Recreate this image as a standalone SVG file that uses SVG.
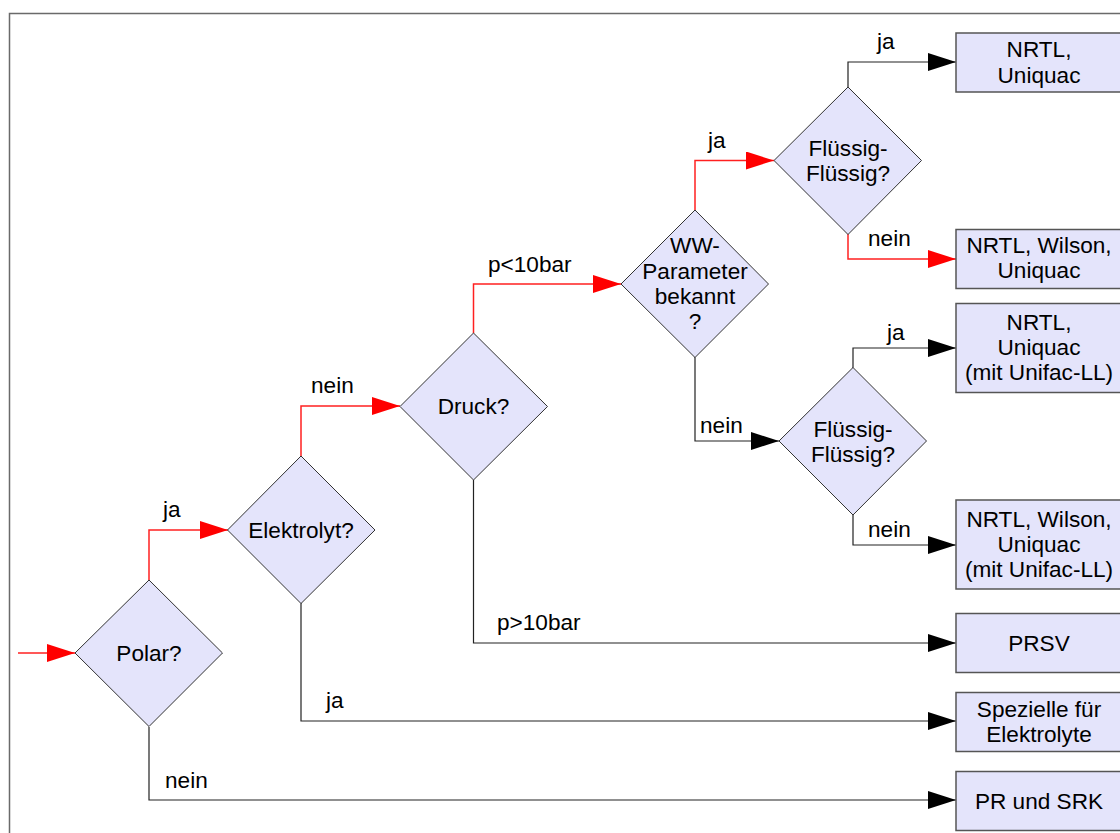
<svg xmlns="http://www.w3.org/2000/svg" width="1120" height="833" viewBox="0 0 1120 833">
<style>
text{font-family:"Liberation Sans",Arial,sans-serif;font-size:22.6px;fill:#000}
.t{text-anchor:middle}
.dia{fill:#e4e4fb;stroke:#333;stroke-width:1}
.box{fill:#e4e4fb;stroke:#555;stroke-width:1.5}
.r{fill:none;stroke:#ff2020;stroke-width:1.5}
.k{fill:none;stroke:#222;stroke-width:1.2}
</style>
<defs>
<marker id="ar" markerUnits="userSpaceOnUse" markerWidth="30" markerHeight="20" refX="28" refY="9" orient="auto"><path d="M0,0 L28,9 L0,18 z" fill="#ff0000"/></marker>
<marker id="ak" markerUnits="userSpaceOnUse" markerWidth="30" markerHeight="20" refX="28" refY="9" orient="auto"><path d="M0,0 L28,9 L0,18 z" fill="#000"/></marker>
</defs>
<rect x="0" y="0" width="1120" height="833" fill="#fff"/>
<path d="M9.5,833 L9.5,13.5 L1120,13.5" fill="none" stroke="#6a6a6a" stroke-width="1.5"/>

<g id="connectors">
<path class="r" d="M18,653 L75,653" marker-end="url(#ar)"/>
<path class="r" d="M149,580 L149,530 L228,530" marker-end="url(#ar)"/>
<path class="k" d="M149,727 L149,800 L956,800" marker-end="url(#ak)"/>
<path class="k" d="M301,603 L301,721 L956,721" marker-end="url(#ak)"/>
<path class="r" d="M301,456 L301,406 L400,406" marker-end="url(#ar)"/>
<path class="r" d="M473.5,333 L473.5,284 L621,284" marker-end="url(#ar)"/>
<path class="k" d="M473.5,480 L473.5,643 L956,643" marker-end="url(#ak)"/>
<path class="r" d="M695,210 L695,160.5 L774,160.5" marker-end="url(#ar)"/>
<path class="k" d="M695,357 L695,441 L779,441" marker-end="url(#ak)"/>
<path class="k" d="M848,87 L848,62 L956,62" marker-end="url(#ak)"/>
<path class="r" d="M848,234 L848,259 L956,259" marker-end="url(#ar)"/>
<path class="k" d="M853,368 L853,348 L956,348" marker-end="url(#ak)"/>
<path class="k" d="M853,515 L853,545 L956,545" marker-end="url(#ak)"/>
<text x="163" y="517">ja</text>
<text x="165" y="788">nein</text>
<text x="326" y="708">ja</text>
<text x="311" y="393">nein</text>
<text x="488" y="272">p&lt;10bar</text>
<text x="497" y="630">p&gt;10bar</text>
<text x="708" y="148">ja</text>
<text x="700" y="433">nein</text>
<text x="877" y="49">ja</text>
<text x="868" y="246">nein</text>
<text x="887" y="340">ja</text>
<text x="868" y="537">nein</text>
</g>

<g id="polar"><path class="dia" d="M149,580 L222.5,653 L149,726.5 L75,653 z"/><text class="t" x="149" y="661">Polar?</text></g>
<g id="elektrolyt"><path class="dia" d="M301,456 L375,530 L301,603.5 L227.5,530 z"/><text class="t" x="301" y="538">Elektrolyt?</text></g>
<g id="druck"><path class="dia" d="M473.5,333 L547.5,406.5 L473.5,480 L400,406.5 z"/><text class="t" x="473.5" y="414">Druck?</text></g>
<g id="ww"><path class="dia" d="M695,210 L768.5,284 L695,357.5 L621,284 z"/><text class="t" x="695" y="253">WW-</text><text class="t" x="695" y="278.5">Parameter</text><text class="t" x="695" y="304">bekannt</text><text class="t" x="695" y="329.3">?</text></g>
<g id="fluessig1"><path class="dia" d="M848,87 L921.5,160.5 L848,234.5 L774,160.5 z"/><text class="t" x="848" y="156">Flüssig-</text><text class="t" x="848" y="181">Flüssig?</text></g>
<g id="fluessig2"><path class="dia" d="M853,367.5 L926.5,441 L853,515 L779,441 z"/><text class="t" x="853" y="436.7">Flüssig-</text><text class="t" x="853" y="461.7">Flüssig?</text></g>

<g id="box-nrtl-uniquac"><rect class="box" x="956" y="33" width="165" height="59"/><text class="t" x="1039" y="57.3">NRTL,</text><text class="t" x="1039" y="82.7">Uniquac</text></g>
<g id="box-nrtl-wilson-uniquac"><rect class="box" x="956" y="229.5" width="165" height="59"/><text class="t" x="1039" y="253.3">NRTL, Wilson,</text><text class="t" x="1039" y="278.3">Uniquac</text></g>
<g id="box-nrtl-uniquac-unifac"><rect class="box" x="956" y="303.5" width="165" height="89"/><text class="t" x="1039" y="330">NRTL,</text><text class="t" x="1039" y="355">Uniquac</text><text class="t" x="1039" y="380">(mit Unifac-LL)</text></g>
<g id="box-nrtl-wilson-unifac"><rect class="box" x="956" y="500" width="165" height="89"/><text class="t" x="1039" y="526.7">NRTL, Wilson,</text><text class="t" x="1039" y="551.7">Uniquac</text><text class="t" x="1039" y="576.7">(mit Unifac-LL)</text></g>
<g id="box-prsv"><rect class="box" x="956" y="613.5" width="165" height="59"/><text class="t" x="1039" y="650.7">PRSV</text></g>
<g id="box-spezielle"><rect class="box" x="956" y="692.5" width="165" height="59"/><text class="t" x="1039" y="717">Spezielle für</text><text class="t" x="1039" y="742">Elektrolyte</text></g>
<g id="box-pr-srk"><rect class="box" x="956" y="771.5" width="165" height="59"/><text class="t" x="1039" y="809.3">PR und SRK</text></g>
</svg>
